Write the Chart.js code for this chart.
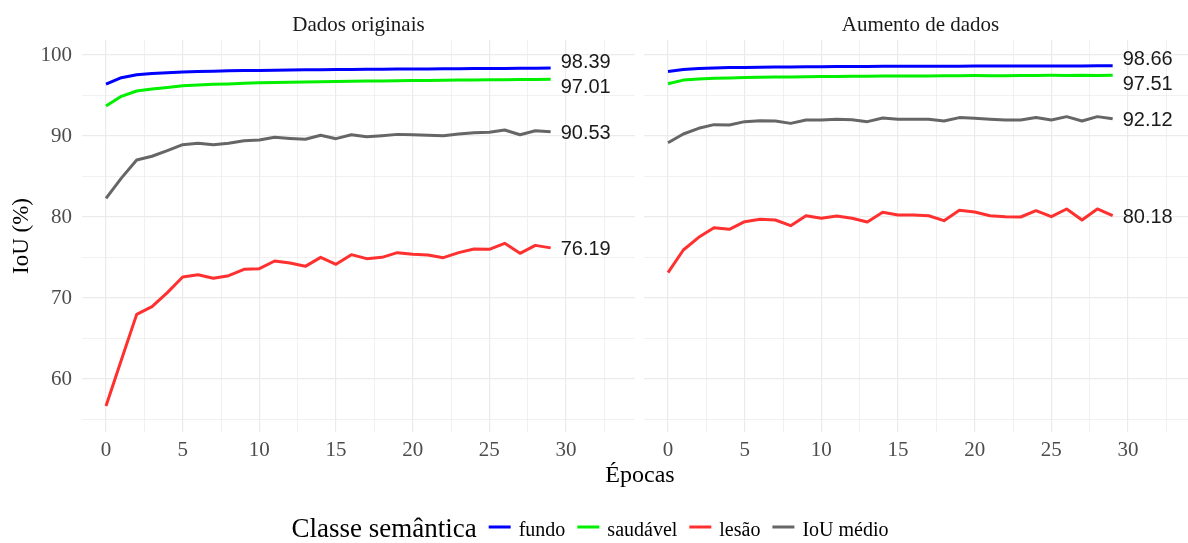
<!DOCTYPE html>
<html>
<head>
<meta charset="utf-8">
<script src="https://cdn.jsdelivr.net/npm/chart.js@4/dist/chart.umd.min.js"></script>
<style>
  html, body { margin: 0; padding: 0; background: #ffffff; overflow: hidden; }
  #wrap { position: relative; width: 1188px; height: 543px; overflow: hidden; }
  .box { position: absolute; top: 0; height: 543px; }
  #boxL { left: 0; width: 1188px; }
  #boxR { left: 0; width: 1202px; }
</style>
</head>
<body>
<div id="wrap">
  <div class="box" id="boxL"><canvas id="chartL"></canvas></div>
  <div class="box" id="boxR"><canvas id="chartR"></canvas></div>
</div>
<script>
// Epochs on the x axis
const epochs = [0,1,2,3,4,5,6,7,8,9,10,11,12,13,14,15,16,17,18,19,20,21,22,23,24,25,26,27,28,29];

// IoU (%) per class — original data
const origFundo    = [96.40,97.20,97.55,97.70,97.80,97.90,97.95,98.00,98.05,98.08,98.10,98.12,98.15,98.17,98.19,98.20,98.22,98.23,98.25,98.26,98.27,98.28,98.30,98.31,98.32,98.33,98.34,98.35,98.37,98.39];
const origSaudavel = [93.70,94.90,95.55,95.80,96.00,96.20,96.30,96.38,96.43,96.50,96.56,96.60,96.63,96.66,96.70,96.73,96.76,96.78,96.80,96.83,96.85,96.86,96.88,96.90,96.92,96.93,96.95,96.96,96.98,97.01];
const origLesao    = [56.67,62.35,67.98,68.93,70.66,72.59,72.88,72.43,72.76,73.54,73.62,74.57,74.32,73.91,75.02,74.16,75.35,74.86,75.02,75.60,75.39,75.31,74.98,75.60,76.05,76.01,76.75,75.52,76.50,76.19];
const origMedio    = [82.30,84.80,87.04,87.50,88.20,88.93,89.10,88.93,89.10,89.42,89.50,89.84,89.70,89.60,90.09,89.67,90.16,89.92,90.04,90.20,90.16,90.10,90.04,90.25,90.41,90.45,90.74,90.16,90.65,90.53];

// IoU (%) per class — with data augmentation
const augFundo    = [97.95,98.20,98.33,98.40,98.44,98.47,98.50,98.52,98.53,98.55,98.56,98.57,98.58,98.59,98.60,98.60,98.61,98.61,98.62,98.62,98.63,98.63,98.64,98.64,98.64,98.65,98.65,98.65,98.66,98.66];
const augSaudavel = [96.45,96.90,97.05,97.12,97.17,97.22,97.25,97.27,97.29,97.31,97.35,97.33,97.36,97.38,97.41,97.40,97.42,97.41,97.43,97.45,97.46,97.44,97.45,97.47,97.46,97.49,97.48,97.50,97.47,97.51];
const augLesao    = [73.13,75.93,77.49,78.68,78.48,79.42,79.71,79.63,78.93,80.16,79.84,80.12,79.84,79.38,80.58,80.25,80.25,80.16,79.55,80.82,80.62,80.16,80.04,80.00,80.78,80.04,80.99,79.63,80.99,80.18];
const augMedio    = [89.17,90.25,90.95,91.40,91.36,91.77,91.89,91.85,91.56,91.98,91.98,92.06,92.00,91.77,92.22,92.06,92.06,92.06,91.85,92.27,92.18,92.06,91.98,91.98,92.27,91.98,92.39,91.85,92.39,92.12];

// Class names, colours, panel titles
const seriesNames  = ['fundo', 'saudável', 'lesão', 'IoU médio'];
const seriesColors = ['#0000ff', '#00f000', '#ff3030', '#666666'];
const panelTitles  = ['Dados originais', 'Aumento de dados'];
const legendTitle  = 'Classe semântica';
const xTitle       = 'Épocas';
const yTitle       = 'IoU (%)';

// Axis breaks
const xMajor = [0, 5, 10, 15, 20, 25, 30];
const xMinor = [2.5, 7.5, 12.5, 17.5, 22.5, 27.5, 32.5];
const yMajor = [60, 70, 80, 90, 100];
const yMinor = [55, 65, 75, 85, 95];

const SERIF = '"Liberation Serif", "Times New Roman", serif';
const SANS  = '"Liberation Sans", Arial, sans-serif';
const GRID  = '#ebebeb';

function toPoints(values) {
  return values.map((v, i) => ({ x: epochs[i], y: v }));
}

function makeDatasets(series) {
  return series.map((vals, i) => ({
    label: seriesNames[i],
    data: toPoints(vals),
    borderColor: seriesColors[i],
    backgroundColor: seriesColors[i],
    borderWidth: 3,
    pointRadius: 0,
    tension: 0,
    borderCapStyle: 'butt',
    borderJoinStyle: 'round'
  }));
}

// Strip title above each panel and value labels at the end of each line
const panelDecor = {
  id: 'panelDecor',
  afterDatasetsDraw(chart, args, opts) {
    const ctx = chart.ctx;
    const area = chart.chartArea;
    const xs = chart.scales.x, ys = chart.scales.y;
    ctx.save();
    // strip title
    ctx.font = '21px ' + SERIF;
    ctx.fillStyle = '#1a1a1a';
    ctx.textAlign = 'center';
    ctx.textBaseline = 'middle';
    ctx.fillText(opts.title, (area.left + area.right) / 2, 25);

    // end-of-line value labels, pushed apart where they would collide
    const labels = chart.data.datasets.map(ds => {
      const last = ds.data[ds.data.length - 1];
      return { text: last.y.toFixed(2), x: xs.getPixelForValue(last.x) + 10, y: ys.getPixelForValue(last.y) };
    }).sort((a, b) => a.y - b.y);
    const gap = 25;
    for (let it = 0; it < 50; it++) {
      let moved = false;
      for (let i = 0; i < labels.length - 1; i++) {
        const d = labels[i + 1].y - labels[i].y;
        if (d < gap) {
          const push = (gap - d) / 2;
          labels[i].y -= push;
          labels[i + 1].y += push;
          moved = true;
        }
      }
      if (!moved) break;
    }
    ctx.font = '20px ' + SANS;
    ctx.fillStyle = '#1a1a1a';
    ctx.textAlign = 'left';
    labels.forEach(l => ctx.fillText(l.text, l.x, l.y + 1.5));
    ctx.restore();
  }
};

// Shared x-axis title and the legend under both panels
const sharedDecor = {
  id: 'sharedDecor',
  afterDraw(chart) {
    const ctx = chart.ctx;
    ctx.save();
    ctx.fillStyle = '#000000';
    ctx.textBaseline = 'alphabetic';
    ctx.textAlign = 'center';
    ctx.font = '24px ' + SERIF;
    ctx.fillText(xTitle, 640, 482);

    // legend
    const titleFont = '27px ' + SERIF, itemFont = '20px ' + SERIF;
    const sw = 22, swGap = 8, itemGap = 12, titleGap = 12;
    ctx.font = titleFont;
    const tW = ctx.measureText(legendTitle).width;
    ctx.font = itemFont;
    const widths = seriesNames.map(n => ctx.measureText(n).width);
    let total = tW + titleGap;
    widths.forEach((w, i) => { total += sw + swGap + w + (i < widths.length - 1 ? itemGap : 0); });
    let x = 590 - total / 2;
    const base = 537, mid = 527;
    ctx.textAlign = 'left';
    ctx.font = titleFont;
    ctx.fillText(legendTitle, x, base);
    x += tW + titleGap;
    ctx.font = itemFont;
    seriesNames.forEach((n, i) => {
      ctx.strokeStyle = seriesColors[i];
      ctx.lineWidth = 3;
      ctx.beginPath();
      ctx.moveTo(x, mid);
      ctx.lineTo(x + sw, mid);
      ctx.stroke();
      x += sw + swGap;
      ctx.fillStyle = '#000000';
      ctx.fillText(n, x, base - 1);
      x += widths[i] + itemGap;
    });
    ctx.restore();
  }
};

function gridWidth(majors) {
  return ctx => (ctx.tick && majors.includes(ctx.tick.value)) ? 1.2 : 0.7;
}

function makeChart(canvasId, series, side) {
  const isLeft = side === 'left';
  return new Chart(document.getElementById(canvasId), {
    type: 'line',
    data: { datasets: makeDatasets(series) },
    options: {
      responsive: true,
      maintainAspectRatio: false,
      animation: false,
      events: [],
      layout: {
        padding: isLeft
          ? { left: 0, right: 1188 - 635, top: 40, bottom: 543 - 432 - 40 }
          : { left: 644, right: 5, top: 40, bottom: 543 - 432 - 40 }
      },
      plugins: {
        legend: { display: false },
        tooltip: { enabled: false },
        panelDecor: { title: isLeft ? panelTitles[0] : panelTitles[1] }
      },
      scales: {
        x: {
          type: 'linear',
          min: -1.566,
          max: 34.5,
          afterBuildTicks(s) { s.ticks = xMajor.concat(xMinor).sort((a, b) => a - b).map(v => ({ value: v })); },
          afterFit(s) { s.height = 40; },
          ticks: {
            autoSkip: false, maxRotation: 0, padding: 6,
            font: { family: SERIF, size: 21 }, color: '#4d4d4d',
            callback: v => xMajor.includes(v) ? String(v) : ''
          },
          grid: { color: GRID, lineWidth: gridWidth(xMajor), drawTicks: false },
          border: { display: false }
        },
        y: {
          type: 'linear',
          min: 53.46,
          max: 101.85,
          afterBuildTicks(s) { s.ticks = yMajor.concat(yMinor).sort((a, b) => a - b).map(v => ({ value: v })); },
          afterFit(s) { s.width = isLeft ? 82 : 0; },
          ticks: {
            display: isLeft, autoSkip: false, padding: 10,
            font: { family: SERIF, size: 21 }, color: '#4d4d4d',
            callback: v => yMajor.includes(v) ? String(v) : ''
          },
          title: {
            display: isLeft, text: yTitle, color: '#000000',
            font: { family: SERIF, size: 23 }, padding: { top: 8, bottom: 0 }
          },
          grid: { color: GRID, lineWidth: gridWidth(yMajor), drawTicks: false },
          border: { display: false }
        }
      }
    },
    plugins: isLeft ? [panelDecor, sharedDecor] : [panelDecor]
  });
}

makeChart('chartL', [origFundo, origSaudavel, origLesao, origMedio], 'left');
makeChart('chartR', [augFundo, augSaudavel, augLesao, augMedio], 'right');
</script>
</body>
</html>
